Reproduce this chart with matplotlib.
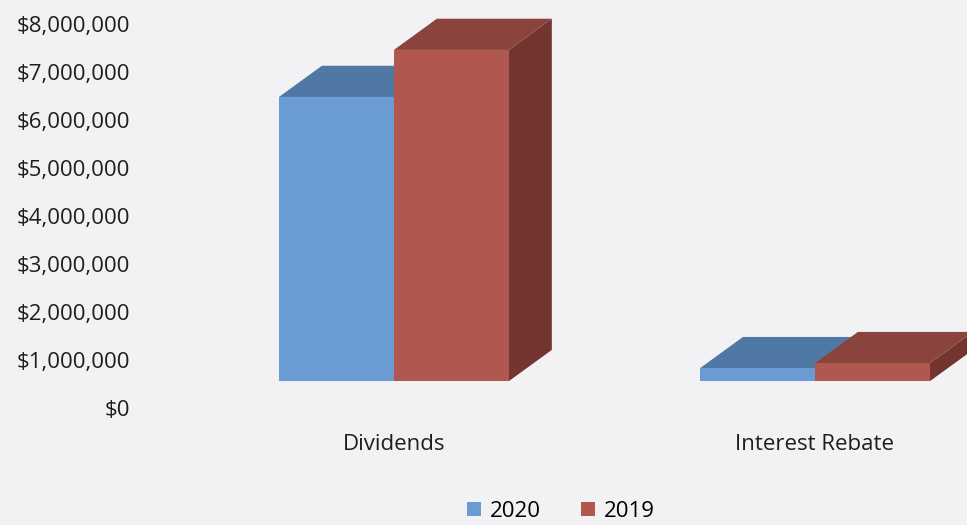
import matplotlib.pyplot as plt
from matplotlib.patches import Polygon, Rectangle
from matplotlib.ticker import FuncFormatter

plt.rcParams['font.family'] = ['Open Sans', 'DejaVu Sans']

categories = ["Dividends", "Interest Rebate"]
years = ["2020", "2019"]
values_2020 = [5920000, 270000]
values_2019 = [6900000, 375000]

# front / top / side shades per series
shades = {
    "2020": ("#6a9bd3", "#4f78a4", "#3f6287"),
    "2019": ("#b0574f", "#8b433d", "#72352f"),
}
BG = "#f2f2f4"
BAR_W = 0.273
DX, DY = 0.102, 0.65e6   # oblique depth of each bar
FLOOR = 0.56e6           # front edge of the floor sits above the $0 line

fig = plt.figure(figsize=(9.67, 5.25), dpi=100, facecolor=BG)
ax = fig.add_axes([140 / 967, 117 / 525, 827 / 967, 384 / 525], facecolor=BG)
ax.set_xlim(-0.603, 1.361)
ax.set_ylim(0, 8000000)


def bar3d(x0, h, cols):
    front, top, side = cols
    b, t = FLOOR, FLOOR + h
    x1 = x0 + BAR_W
    ax.add_patch(Polygon([(x1, b), (x1 + DX, b + DY), (x1 + DX, t + DY), (x1, t)],
                         closed=True, fc=side, ec="none", clip_on=False))
    ax.add_patch(Polygon([(x0, t), (x0 + DX, t + DY), (x1 + DX, t + DY), (x1, t)],
                         closed=True, fc=top, ec="none", clip_on=False))
    ax.add_patch(Rectangle((x0, b), BAR_W, h, fc=front, ec="none", clip_on=False))


for i in range(len(categories)):
    bar3d(i - BAR_W, values_2020[i], shades["2020"])
    bar3d(i, values_2019[i], shades["2019"])

ax.set_yticks(range(0, 8000001, 1000000))
ax.yaxis.set_major_formatter(FuncFormatter(lambda v, p: f"${v:,.0f}"))
ax.set_xticks(range(len(categories)))
ax.set_xticklabels(categories)
ax.tick_params(length=0, labelsize=16, colors="#1e1e1e")
ax.tick_params(axis="y", pad=7)
ax.tick_params(axis="x", pad=19)
for s in ax.spines.values():
    s.set_visible(False)

handles = [Rectangle((0, 0), 1, 1, fc=shades[y][0]) for y in years]
fig.legend(handles, years, loc="center", bbox_to_anchor=(0.58, 0.026), ncol=2,
           frameon=False, fontsize=16, handlelength=0.65, handleheight=0.65,
           handletextpad=0.4, columnspacing=1.8, borderpad=0)

fig.savefig("out.png", dpi=100, facecolor=BG)
